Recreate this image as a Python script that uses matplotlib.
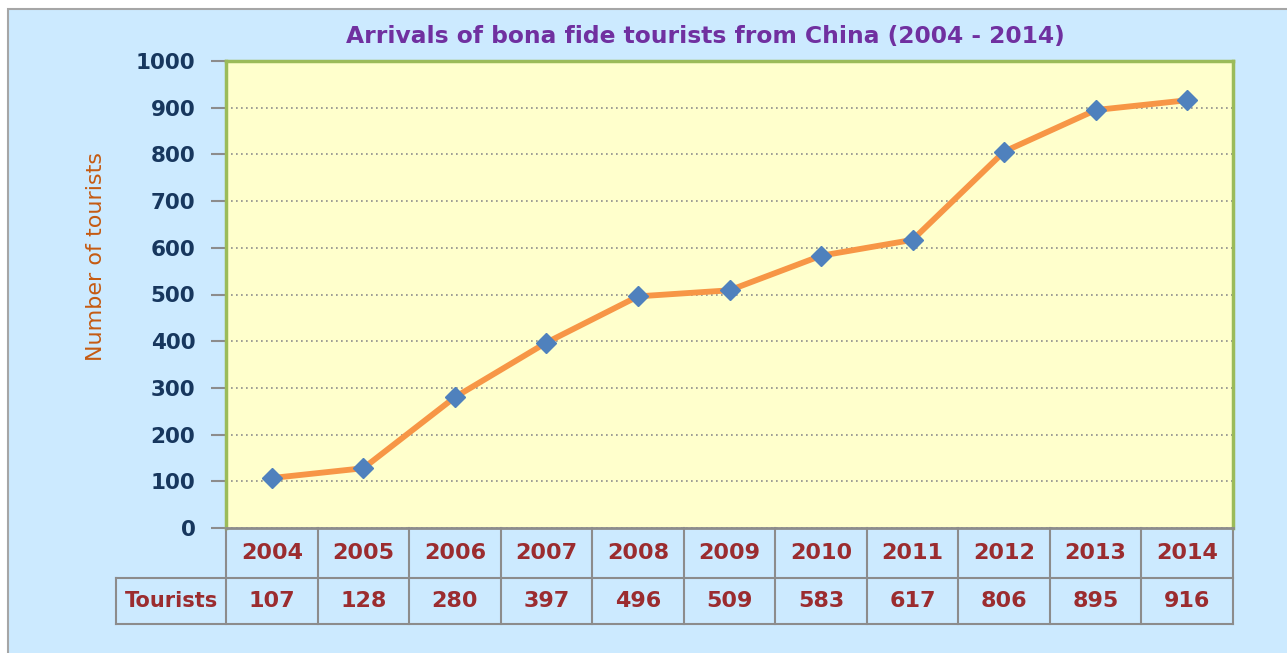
import matplotlib.pyplot as plt
from matplotlib.patches import Rectangle
import numpy as np

years = ["2004", "2005", "2006", "2007", "2008", "2009", "2010", "2011", "2012", "2013", "2014"]
tourists = [107, 128, 280, 397, 496, 509, 583, 617, 806, 895, 916]
row_label = "Tourists"
title = "Arrivals of bona fide tourists from China (2004 - 2014)"

bg_blue = "#cceaff"
plot_yellow = "#ffffcc"
dark_red = "#9b2c2f"
grid_gray = "#8c8c8c"

plt.rcParams["font.family"] = ["DejaVu Sans"]

fig = plt.figure(figsize=(12.87, 6.53), dpi=100)
fig.patch.set_facecolor("white")
fig.patches.append(Rectangle((8 / 1287, -0.1), 1.2, 1.1 - 9 / 653, transform=fig.transFigure,
                             facecolor=bg_blue, edgecolor="#a6a6a6", linewidth=1.5, zorder=-10))

ax = fig.add_axes([226 / 1287, 1 - 528 / 653, 1007 / 1287, 467 / 653])
ax.set_facecolor(plot_yellow)

x = np.arange(len(years))
ax.plot(x, tourists, color="#f79646", linewidth=4.2, zorder=3, solid_capstyle="round")
ax.plot(x, tourists, linestyle="none", marker="D", markersize=10.5, color="#4f81bd",
        markeredgecolor="#4f81bd", zorder=4)

ax.set_xlim(-0.5, len(years) - 0.5)
ax.set_ylim(0, 1000)
ax.set_yticks(np.arange(0, 1001, 100))
ax.set_xticks([])
ax.yaxis.grid(True, linestyle=(0, (1, 2)), color=grid_gray, linewidth=1.2)
ax.set_axisbelow(True)
ax.tick_params(axis="y", length=11, width=1.5, color="#8c8c8c", labelsize=15.5,
               labelcolor="#17375e", pad=11)
for lbl in ax.get_yticklabels():
    lbl.set_fontweight("bold")

for side in ["top", "right", "left"]:
    ax.spines[side].set_color("#9bbb59")
    ax.spines[side].set_linewidth(2.5)
ax.spines["bottom"].set_color("#8c8c8c")
ax.spines["bottom"].set_linewidth(2)

ax.set_ylabel("Number of tourists", fontsize=16, color="#c55a11")
ax.yaxis.set_label_coords(-0.119, 0.582)
fig.text(705 / 1287, 1 - 37 / 653, title, ha="center", va="center", fontsize=16.8,
         fontweight="bold", color="#7030a0")

# data table under the axis
tr = ax.get_xaxis_transform()
h1 = -50 / 467
h2 = -96 / 467
lc = dict(color="#8c8c8c", linewidth=1.5, clip_on=False, transform=tr)
n = len(years)
ax.plot([-1.7, n - 0.5], [h1, h1], **lc)
ax.plot([-1.7, n - 0.5], [h2, h2], **lc)
ax.plot([-1.7, -1.7], [h1, h2], **lc)
for i in range(n + 1):
    ax.plot([i - 0.5, i - 0.5], [0, h2], **lc)

for i in range(n):
    ax.text(i, h1 / 2, years[i], transform=tr, ha="center", va="center", fontsize=16,
            fontweight="bold", color=dark_red)
    ax.text(i, (h1 + h2) / 2, str(tourists[i]), transform=tr, ha="center", va="center",
            fontsize=16, fontweight="bold", color=dark_red)
ax.text(-1.1, (h1 + h2) / 2, row_label, transform=tr, ha="center", va="center", fontsize=15,
        fontweight="bold", color=dark_red)

fig.savefig("out.png", dpi=100)
